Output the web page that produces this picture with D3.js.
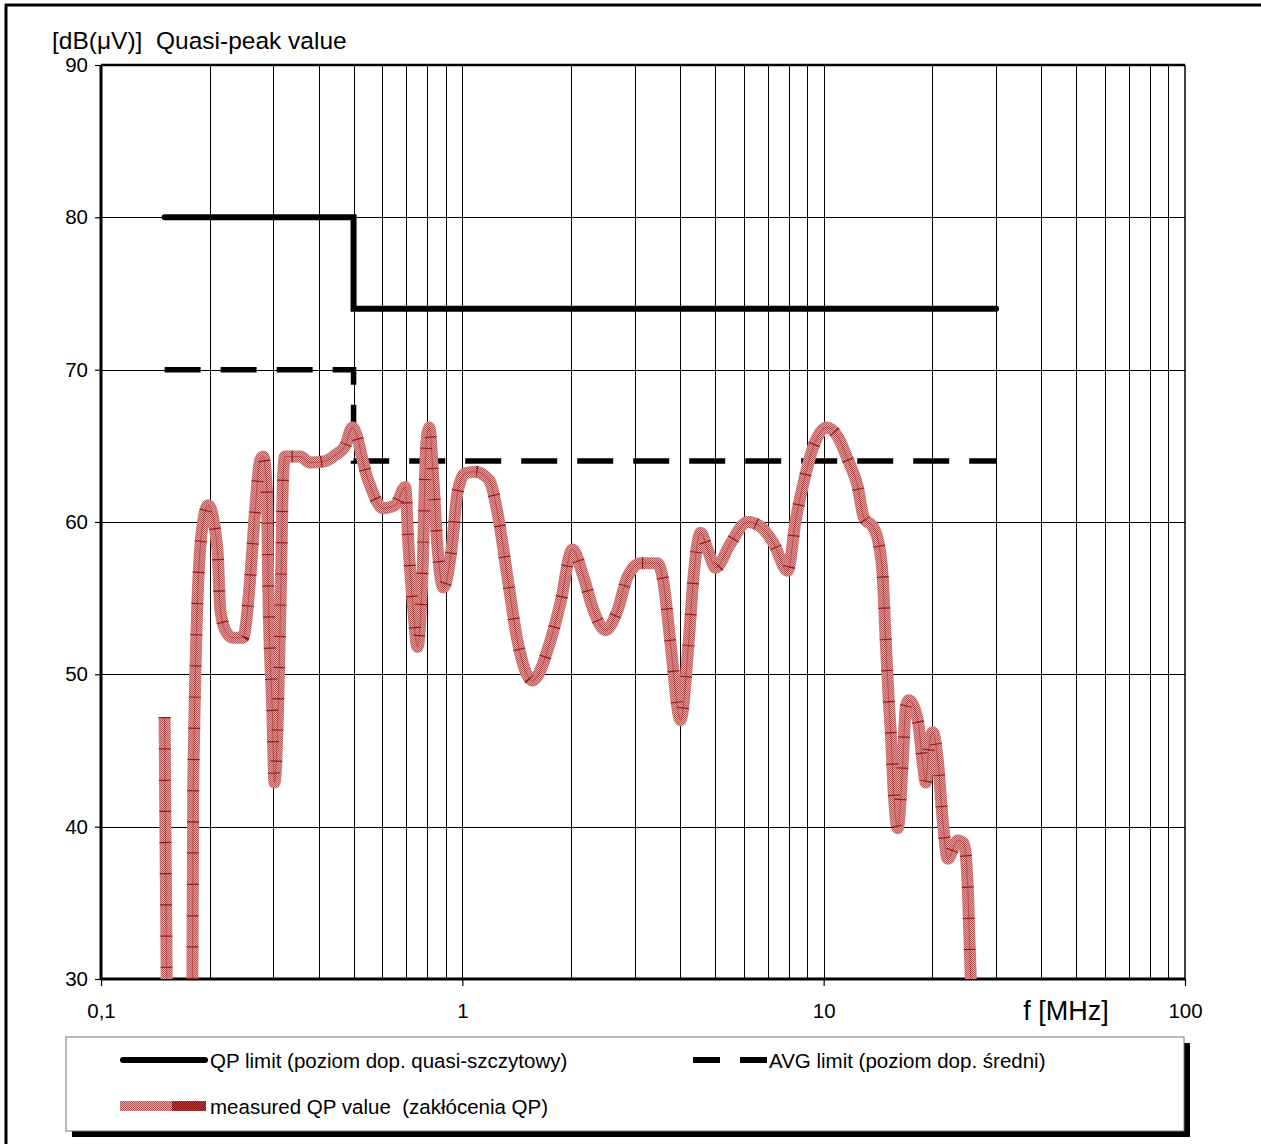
<!DOCTYPE html>
<html>
<head>
<meta charset="utf-8">
<script src="https://cdn.jsdelivr.net/npm/d3@7"></script>
<style>
  body { margin: 0; background: #fff; }
  svg { display: block; font-family: "Liberation Sans", Arial, sans-serif; }
  text { white-space: pre; }
</style>
</head>
<body>
<div id="chart"></div>
<script>
// measured quasi-peak curve, frequency in MHz and level in dB(uV)
const measFreq = [0.150, 0.1505, 0.152, 0.153, 0.176, 0.179, 0.180, 0.181, 0.1845, 0.188, 0.192, 0.198,
    0.210, 0.214, 0.223, 0.232, 0.247, 0.259, 0.267, 0.276, 0.281, 0.288, 0.290, 0.298, 0.302, 0.309,
    0.315, 0.319, 0.323, 0.356, 0.379, 0.417, 0.445, 0.474, 0.496, 0.546, 0.604, 0.652, 0.695, 0.709,
    0.732, 0.751, 0.775, 0.795, 0.810, 0.831, 0.852, 0.886, 0.938, 0.969, 1.019, 1.087, 1.158, 1.196,
    1.258, 1.333, 1.421, 1.563, 1.753, 1.869, 2.017, 2.164, 2.307, 2.490, 2.688, 2.865, 3.112, 3.469,
    3.605, 3.769, 4.017, 4.227, 4.364, 4.563, 4.772, 5.022, 5.526, 6.159, 6.691, 7.270, 7.949, 8.365,
    8.80, 9.38, 10.2, 10.94, 11.66, 12.43, 12.91, 13.76, 14.20, 14.57, 14.85, 15.14, 15.33, 15.63,
    16.03, 16.55, 16.87, 17.20, 18.21, 18.80, 19.17, 19.54, 20.04, 20.69, 21.36, 22.06, 23.50, 24.42,
    25.05, 25.22, 25.54, 26.0];
const measLevel = [47.2, 42, 30, 25, 25, 30, 42.2, 46, 54.2, 58.2, 60.1, 61.1,
    58.2, 54.2, 52.7, 52.4, 52.4, 56.4, 60.8, 64.1, 64.3, 61.9, 56.4, 47.6, 42.9, 47.6,
    56.4, 62.9, 64.3, 64.3, 63.9, 64.0, 64.4, 65.0, 66.2, 62.9, 60.9, 61.1, 62.3, 58.6,
    54.2, 51.8, 56.4, 65.2, 66.2, 62.9, 58.6, 55.7, 58.6, 61.9, 63.2, 63.3, 63.0, 62.6,
    60.3, 56.4, 52.2, 49.6, 52.2, 54.7, 58.2, 56.4, 54.2, 52.9, 54.2, 56.4, 57.3, 57.3,
    56.0, 52.0, 47.0, 52.0, 56.4, 59.3, 58.2, 57.0, 58.6, 60.0, 59.7, 58.6, 56.8, 60.1,
    62.6, 65.0, 66.2, 65.6, 64.1, 62.3, 60.3, 59.6, 58.6, 56.4, 52.2, 48.3, 46.3, 42.2,
    39.9, 44.2, 47.8, 48.3, 47.0, 44.2, 42.9, 45.2, 46.2, 44.4, 40.4, 37.9, 39.1, 38.9,
    36.0, 33.9, 30.0, 25];

// limit lines
const qpFreq = [0.15, 0.5, 0.5, 30];
const qpLevel = [80, 80, 74, 74];
const avgFreq = [0.15, 0.5, 0.5, 30];
const avgLevel = [70, 70, 64, 64];

// axes
const yTicks = [30, 40, 50, 60, 70, 80, 90];
const xTicks = [0.1, 1, 10, 100];
const xTickLabels = ["0,1", "1", "10", "100"];
const xGrid = [0.2, 0.3, 0.4, 0.5, 0.6, 0.7, 0.8, 0.9, 1, 2, 3, 4, 5, 6, 7, 8, 9, 10,
    20, 30, 40, 50, 60, 70, 80, 90];

const legendItems = ["QP limit (poziom dop. quasi-szczytowy)", "AVG limit (poziom dop. średni)",
    "measured QP value  (zakłócenia QP)"];

const W = 1261, H = 1144;
const plot = {left: 101, right: 1185, top: 65, bottom: 979};

const svg = d3.select("#chart").append("svg")
    .attr("width", W).attr("height", H);

const defs = svg.append("defs");
defs.append("clipPath").attr("id", "clip")
    .append("rect")
    .attr("x", plot.left).attr("y", plot.top)
    .attr("width", plot.right - plot.left).attr("height", plot.bottom - plot.top);

function checker(id, light, dark) {
    let p = defs.append("pattern").attr("id", id)
        .attr("width", 2).attr("height", 2).attr("patternUnits", "userSpaceOnUse");
    p.append("rect").attr("width", 2).attr("height", 2).attr("fill", light);
    p.append("rect").attr("width", 1).attr("height", 1).attr("fill", dark);
    p.append("rect").attr("x", 1).attr("y", 1).attr("width", 1).attr("height", 1).attr("fill", dark);
}
checker("hatch", "#d6a0a0", "#b65e5e");
checker("hatchDark", "#b04848", "#8a1010");

const x = d3.scaleLog().domain([0.1, 100]).range([plot.left, plot.right]);
const y = d3.scaleLinear().domain([30, 90]).range([plot.bottom, plot.top]);

// outer frame (cropped)
svg.append("line").attr("x1", 5).attr("x2", W).attr("y1", 5).attr("y2", 5)
    .attr("stroke", "#000").attr("stroke-width", 3);
svg.append("line").attr("x1", 6).attr("x2", 6).attr("y1", 4).attr("y2", H)
    .attr("stroke", "#000").attr("stroke-width", 3);

// grid
svg.append("g").selectAll("line").data(xGrid).enter().append("line")
    .attr("x1", d => Math.round(x(d)) + 0.5).attr("x2", d => Math.round(x(d)) + 0.5)
    .attr("y1", plot.top).attr("y2", plot.bottom)
    .attr("stroke", "#000").attr("stroke-width", 1);
svg.append("g").selectAll("line").data(yTicks.slice(1, -1)).enter().append("line")
    .attr("x1", plot.left).attr("x2", plot.right)
    .attr("y1", d => Math.round(y(d)) + 0.5).attr("y2", d => Math.round(y(d)) + 0.5)
    .attr("stroke", "#000").attr("stroke-width", 1);

// axes
let yAxis = svg.append("g").attr("transform", `translate(${plot.left},0)`)
    .call(d3.axisLeft(y).tickValues(yTicks).tickSize(6).tickPadding(7));
yAxis.select(".domain").remove();
yAxis.selectAll("text").attr("font-size", 20.5).attr("font-family", "Liberation Sans, Arial");
yAxis.selectAll("line").attr("stroke-width", 1.2);

let xAxis = svg.append("g").attr("transform", `translate(0,${plot.bottom})`)
    .call(d3.axisBottom(x).tickValues(xTicks).tickSize(7).tickPadding(17)
        .tickFormat((d, i) => xTickLabels[i]));
xAxis.select(".domain").remove();
xAxis.selectAll("text").attr("font-size", 20.5).attr("font-family", "Liberation Sans, Arial");
xAxis.selectAll("line").attr("stroke-width", 1.2);

// plot frame
svg.append("line").attr("x1", plot.left).attr("x2", plot.right).attr("y1", plot.top).attr("y2", plot.top)
    .attr("stroke", "#000").attr("stroke-width", 2.5);
svg.append("line").attr("x1", plot.left).attr("x2", plot.right).attr("y1", plot.bottom).attr("y2", plot.bottom)
    .attr("stroke", "#000").attr("stroke-width", 3);
svg.append("line").attr("x1", plot.left).attr("x2", plot.left).attr("y1", plot.top).attr("y2", plot.bottom)
    .attr("stroke", "#000").attr("stroke-width", 3);
svg.append("line").attr("x1", plot.right).attr("x2", plot.right).attr("y1", plot.top).attr("y2", plot.bottom)
    .attr("stroke", "#000").attr("stroke-width", 1.5);

// titles
svg.append("text").attr("x", 52).attr("y", 49).attr("font-size", 24.5)
    .text("[dB(μV)]  Quasi-peak value");
svg.append("text").attr("x", 1066).attr("y", 1020).attr("font-size", 27)
    .attr("text-anchor", "middle").text("f [MHz]");

const lineXY = d3.line().x(d => x(d[0])).y(d => y(d[1]));

// limits
svg.append("path")
    .datum(qpFreq.map((f, i) => [f, qpLevel[i]]))
    .attr("d", lineXY)
    .attr("fill", "none").attr("stroke", "#000").attr("stroke-width", 6)
    .attr("stroke-linecap", "round");
svg.append("path")
    .datum(avgFreq.map((f, i) => [f, avgLevel[i]]))
    .attr("d", lineXY)
    .attr("fill", "none").attr("stroke", "#000").attr("stroke-width", 5.5)
    .attr("stroke-dasharray", "36 20");

// measured curve
const meas = measFreq.map((f, i) => [f, measLevel[i]]);
const smooth = d3.line().x(d => x(d[0])).y(d => y(d[1])).curve(d3.curveMonotoneX);
const mg = svg.append("g").attr("clip-path", "url(#clip)");
mg.append("path").datum(meas).attr("d", smooth)
    .attr("fill", "none").attr("stroke", "url(#hatch)").attr("stroke-width", 12);
mg.append("path").datum(meas).attr("d", smooth)
    .attr("fill", "none").attr("stroke", "#8b1010").attr("stroke-width", 0.8)
    .attr("stroke-opacity", 0.5);
mg.append("path").datum(meas).attr("d", smooth)
    .attr("fill", "none").attr("stroke", "#8b0a0a").attr("stroke-width", 12)
    .attr("stroke-dasharray", "1.2 30").attr("stroke-opacity", 0.85);

// legend
const lg = {x: 66, y: 1037, w: 1118, h: 94};
svg.append("rect").attr("x", lg.x + 6).attr("y", lg.y + 6).attr("width", lg.w).attr("height", lg.h)
    .attr("fill", "#000");
svg.append("rect").attr("x", lg.x).attr("y", lg.y).attr("width", lg.w).attr("height", lg.h)
    .attr("fill", "#fff").attr("stroke", "#777").attr("stroke-width", 1);

svg.append("line").attr("x1", 123).attr("x2", 205).attr("y1", 1060).attr("y2", 1060)
    .attr("stroke", "#000").attr("stroke-width", 6).attr("stroke-linecap", "round");
svg.append("line").attr("x1", 693).attr("x2", 767).attr("y1", 1060).attr("y2", 1060)
    .attr("stroke", "#000").attr("stroke-width", 6).attr("stroke-dasharray", "27 20");
svg.append("rect").attr("x", 120).attr("y", 1101).attr("width", 52).attr("height", 10)
    .attr("fill", "url(#hatch)");
svg.append("rect").attr("x", 172).attr("y", 1101).attr("width", 34).attr("height", 10)
    .attr("fill", "url(#hatchDark)");

const legendPos = [[210, 1068], [769, 1068], [210, 1114]];
svg.append("g").selectAll("text").data(legendItems).enter().append("text")
    .attr("x", (d, i) => legendPos[i][0]).attr("y", (d, i) => legendPos[i][1])
    .attr("font-size", 20.5).text(d => d);
</script>
</body>
</html>
